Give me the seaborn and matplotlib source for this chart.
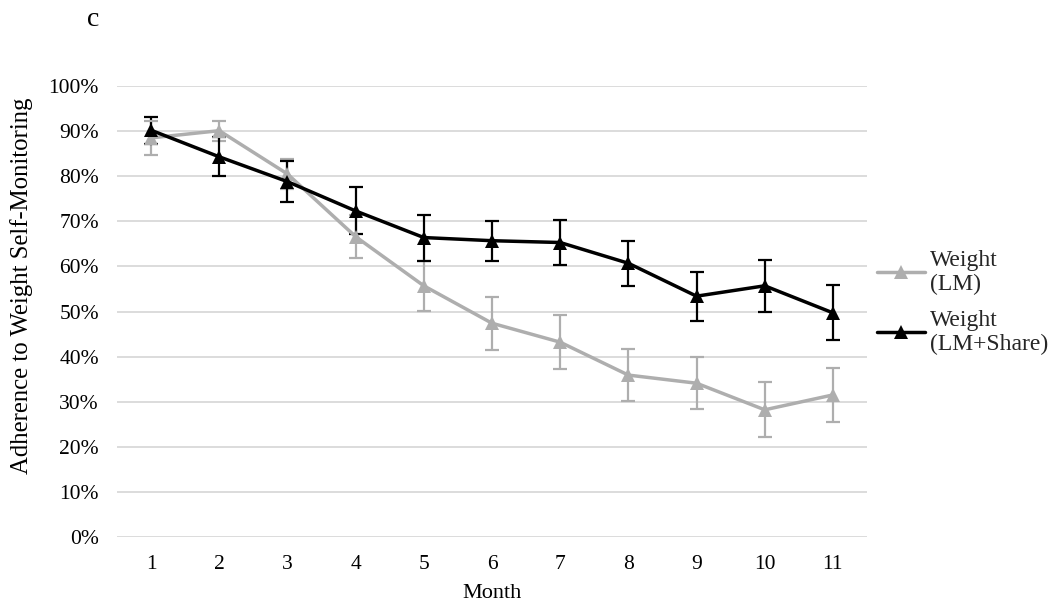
import numpy as np
import pandas as pd
import matplotlib
matplotlib.use("Agg")
import matplotlib.pyplot as plt
from matplotlib.ticker import PercentFormatter, MultipleLocator
import seaborn as sns

months = list(range(1, 12))
lm_values = [88.5, 90.1, 80.5, 66.6, 55.7, 47.4, 43.2, 35.9, 34.1, 28.2, 31.5]
lm_errors = [3.8, 2.2, 3.3, 4.8, 5.6, 5.9, 6.0, 5.8, 5.8, 6.1, 5.9]
share_values = [90.2, 84.3, 78.8, 72.3, 66.4, 65.7, 65.3, 60.7, 53.4, 55.7, 49.7]
share_errors = [3.0, 4.3, 4.5, 5.2, 5.1, 4.4, 5.0, 5.0, 5.4, 5.7, 6.1]
series_names = ["Weight\n(LM)", "Weight\n(LM+Share)"]
colors = {"Weight\n(LM)": "#AEAEAE", "Weight\n(LM+Share)": "#000000"}

df = pd.DataFrame({
    "Month": months * 2,
    "Adherence": lm_values + share_values,
    "Group": [series_names[0]] * len(months) + [series_names[1]] * len(months),
})

sns.set_theme(style="white")
plt.rcParams["font.family"] = ["Liberation Serif", "DejaVu Serif"]

fig = plt.figure(figsize=(10.5, 6.02), dpi=100)
ax = fig.add_axes([0.1114, 0.1080, 0.8257 - 0.1114, 0.8571 - 0.1080])

# error bars
for name, vals, errs in [(series_names[0], lm_values, lm_errors),
                         (series_names[1], share_values, share_errors)]:
    ax.errorbar(months, vals, yerr=errs, fmt="none", ecolor=colors[name],
                elinewidth=1.6, capsize=5, capthick=1.6,
                zorder=2 if name == series_names[0] else 4)

sns.lineplot(data=df, x="Month", y="Adherence", hue="Group", hue_order=series_names,
             palette=colors, marker="^", markersize=10, markeredgewidth=0,
             linewidth=2.5, errorbar=None, ax=ax, legend=True)
for i, line in enumerate(ax.get_lines()):
    line.set_zorder(3 if i == 0 else 5)

ax.set_xlim(0.5, 11.5)
ax.set_ylim(0, 100)
ax.set_xticks(months)
ax.yaxis.set_major_locator(MultipleLocator(10))
ax.yaxis.set_major_formatter(PercentFormatter(decimals=0))
ax.grid(axis="y", color="#D9D9D9", linewidth=1.3)
ax.grid(axis="x", visible=False)
ax.set_axisbelow(True)
for s in ax.spines.values():
    s.set_visible(False)
ax.tick_params(axis="y", length=0, pad=13, labelsize=15.5, colors="black")
ax.tick_params(axis="x", length=0, pad=13, labelsize=15.5, colors="black")
ax.set_xlabel("Month", fontsize=16, color="black", labelpad=7)
ax.set_ylabel("Adherence to Weight Self-Monitoring", fontsize=17.8, color="black")
ax.yaxis.set_label_coords(-0.112, 0.557)

handles, labels = ax.get_legend_handles_labels()
ax.legend(handles, labels, loc="upper left", bbox_to_anchor=(0.835, 0.585),
          bbox_transform=fig.transFigure, frameon=False, fontsize=17,
          handlelength=2.05, handletextpad=0.22, labelspacing=0.62,
          borderpad=0, borderaxespad=0)

fig.text(0.083, 0.968, "c", fontsize=20, color="black", ha="left", va="center")

fig.savefig("out.png", dpi=100)
